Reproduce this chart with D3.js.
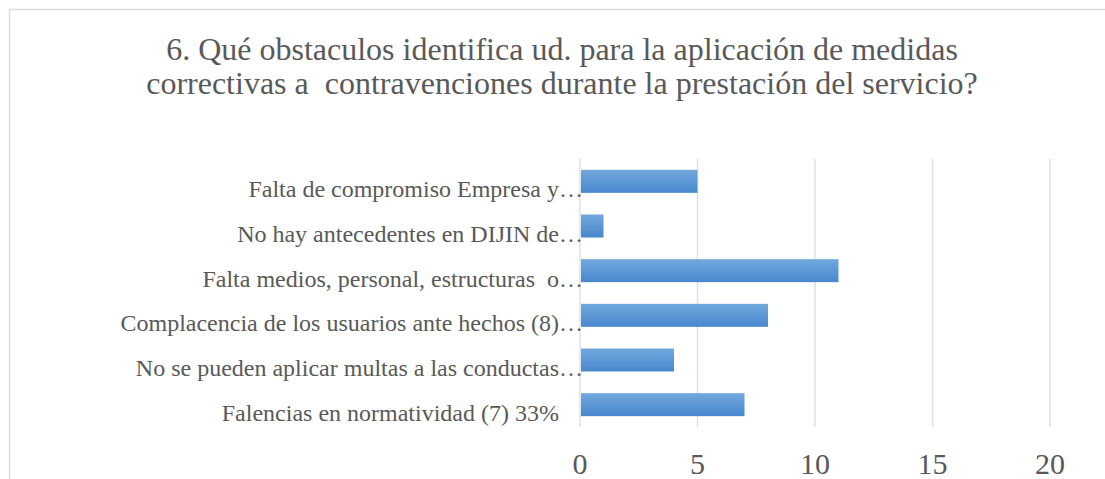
<!DOCTYPE html>
<html><head><meta charset="utf-8">
<script src="https://cdn.jsdelivr.net/npm/d3@7"></script>
<style>body{margin:0;background:#fff}text{font-family:"Liberation Serif","Times New Roman",serif;fill:#595959;white-space:pre}</style>
</head><body><svg id="c" width="1105" height="479"></svg>
<script>
const categories = [
  "Falta de compromiso Empresa y…",
  "No hay antecedentes en DIJIN de…",
  "Falta medios, personal, estructuras  o…",
  "Complacencia de los usuarios ante hechos (8)…",
  "No se pueden aplicar multas a las conductas…",
  "Falencias en normatividad (7) 33%    "
];
const values = [5, 1, 11, 8, 4, 7];
const xTicks = [0, 5, 10, 15, 20];
const titleLines = [
  "6. Qué obstaculos identifica ud. para la aplicación de medidas",
  "correctivas a  contravenciones durante la prestación del servicio?"
];

const svg = d3.select("#c");
svg.append("rect").attr("x",9.5).attr("y",9.5).attr("width",1110).attr("height",490)
  .attr("fill","#fff").attr("stroke","#d9dde3").attr("stroke-width",1.5);

const defs = svg.append("defs");
const g = defs.append("linearGradient").attr("id","bg").attr("x1",0).attr("x2",0).attr("y1",0).attr("y2",1);
g.append("stop").attr("offset","0%").attr("stop-color","#72a8de");
g.append("stop").attr("offset","100%").attr("stop-color","#4788cc");

svg.selectAll(".title").data(titleLines).enter().append("text")
  .attr("x",562).attr("y",(d,i)=>60+i*34).attr("text-anchor","middle")
  .attr("font-size",32).text(d=>d);

const x = d3.scaleLinear().domain([0,20]).range([580,1050]);
const y = d3.scaleBand().domain(categories).range([159,427]).paddingInner(0.485).paddingOuter(0.2425);

svg.selectAll(".grid").data(xTicks).enter().append("line")
  .attr("x1",d=>x(d)).attr("x2",d=>x(d)).attr("y1",159).attr("y2",427)
  .attr("stroke","#dde2ea").attr("stroke-width",1.5);

svg.selectAll(".bar").data(values).enter().append("rect")
  .attr("x",x(0)+1).attr("y",(d,i)=>y(categories[i]))
  .attr("width",d=>x(d)-x(0)-1).attr("height",y.bandwidth())
  .attr("fill","url(#bg)");

svg.selectAll(".cat").data(categories).enter().append("text")
  .attr("x",583).attr("y",d=>y(d)+y.bandwidth()/2+16)
  .attr("text-anchor","end").attr("font-size",24).text(d=>d);

svg.selectAll(".tick").data(xTicks).enter().append("text")
  .attr("x",d=>x(d)).attr("y",474).attr("text-anchor","middle")
  .attr("font-size",30).text(d=>d);
</script></body></html>
